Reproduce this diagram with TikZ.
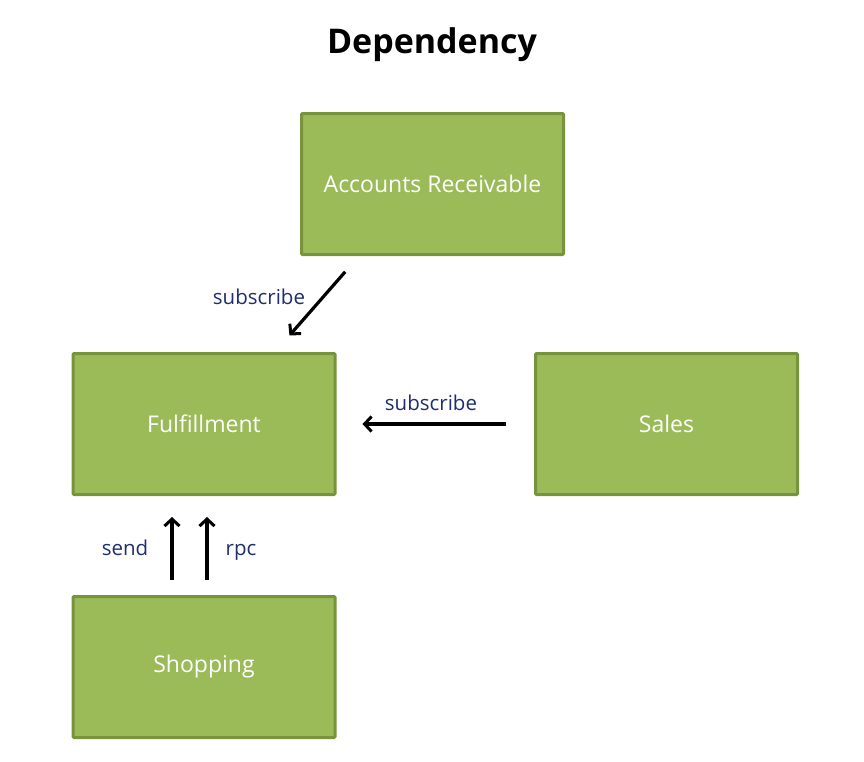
\documentclass[tikz,border=0pt]{standalone}
\usepackage{fontspec}
\setmainfont{Open Sans}
\usepackage{tikz}
\usetikzlibrary{arrows.meta}

\definecolor{boxfill}{RGB}{155,187,89}
\definecolor{boxline}{RGB}{119,147,60}
\definecolor{labelblue}{RGB}{31,46,110}

\tikzset{
  ctxbox/.style = {rectangle, draw = boxline, fill = boxfill, line width = 3pt,
    rounded corners = 1pt, minimum width = 262pt, minimum height = 141pt,
    text = white, font = \fontsize{23}{27}\selectfont},
  dep/.style = {line width = 3.2pt, -{Straight Barb[length=7pt,width=15pt,line width=3pt]}},
  deplabel/.style = {anchor = base, text = labelblue, inner sep = 0pt,
    font = \fontsize{20.5}{24}\selectfont}
}

\begin{document}
\begin{tikzpicture}[x = 1pt, y = -1pt]
\useasboundingbox (0,0) rectangle (864,761);
\node[font = \bfseries\fontsize{34}{40}\selectfont] (title) at (432,45) {Dependency};
\draw (432.5,184) node[ctxbox](ar){Accounts Receivable}
    (204,424) node[ctxbox](ful){Fulfillment}
    (666.5,424) node[ctxbox](sales){Sales}
    (204,667) node[ctxbox](shop){Shopping};
    \draw [dep, shorten <= 21pt, shorten >= 22pt] ([xshift = -73.5pt]ar.south) -- ([xshift = 71pt]ful.north);
    \draw [dep, shorten <= 28pt, shorten >= 26pt] (sales.west) -- (ful.east);
    \draw [dep, shorten <= 15pt, shorten >= 21pt] ([xshift = -32pt]shop.north) -- ([xshift = -32pt]ful.south);
    \draw [dep, shorten <= 15pt, shorten >= 21pt] ([xshift = 3pt]shop.north) -- ([xshift = 3pt]ful.south);
    \node[deplabel] (subar) at (259,304) {subscribe};
    \node[deplabel] (subsales) at (431,410) {subscribe};
    \node[deplabel] (send) at (125,555) {send};
    \node[deplabel] (rpc) at (241,555) {rpc};
\end{tikzpicture}
\end{document}
